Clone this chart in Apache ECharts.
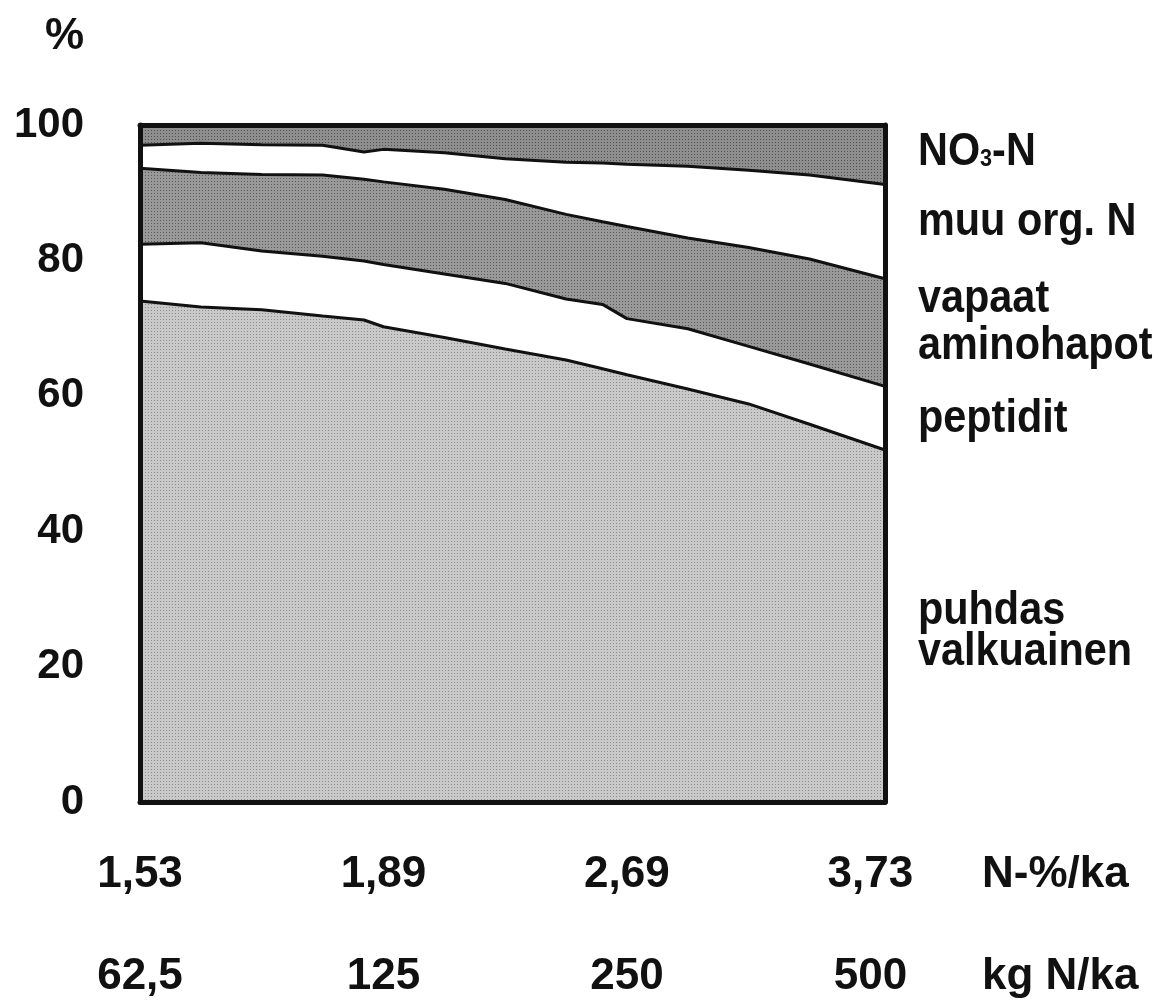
<!DOCTYPE html>
<html>
<head>
<meta charset="utf-8">
<script src="https://cdn.jsdelivr.net/npm/echarts@6/dist/echarts.min.js"></script>
<style>
  html, body { margin: 0; padding: 0; background: #fff; }
  #main { width: 1159px; height: 1002px; }
</style>
</head>
<body>
<div id="main"></div>
<script>
// x positions: 0..3 = the four sampled fertilisation levels
var xPos = [0, 0.25, 0.5, 0.75, 0.92, 1.0, 1.25, 1.5, 1.75, 1.9, 2.0, 2.25, 2.5, 2.75, 3.06];
var nLabels = ["1,53", "1,89", "2,69", "3,73"];
var kgLabels = ["62,5", "125", "250", "500"];
var yTicks = [0, 20, 40, 60, 80, 100];

// osuudet (%), alhaalta ylös
var protein = [74.0, 73.1, 72.7, 71.8, 71.2, 70.2, 68.6, 66.9, 65.3, 64.0, 63.1, 61.0, 58.8, 55.8, 52.0];
var peptides = [8.4, 9.5, 8.7, 8.8, 8.7, 9.2, 9.4, 9.7, 9.0, 9.5, 8.3, 8.9, 8.5, 8.9, 9.4];
var amino = [11.2, 10.4, 11.3, 12.0, 12.1, 12.2, 12.5, 12.4, 12.5, 12.2, 13.6, 13.4, 14.6, 15.5, 15.9];
var otherOrg = [3.4, 4.3, 4.4, 4.4, 4.0, 4.8, 5.4, 6.0, 7.7, 8.7, 9.2, 10.6, 11.4, 12.4, 13.9];
var nitrate = [3.0, 2.7, 2.9, 3.0, 4.0, 3.6, 4.1, 5.0, 5.5, 5.6, 5.8, 6.1, 6.7, 7.4, 8.8];

// right-hand labels: text and baseline y
var sideLabels = [
  ["{a|NO}{s|3}{a|-N}", 168],
  ["muu org. N", 238],
  ["vapaat", 315],
  ["aminohapot", 362],
  ["peptidit", 435],
  ["puhdas", 627],
  ["valkuainen", 668]
];

var FONT = '"Liberation Sans", Arial, Helvetica, sans-serif';

// halftone-like fill
function dots(base, dot) {
  var c = document.createElement("canvas");
  c.width = 3;
  c.height = 3;
  var ctx = c.getContext("2d");
  ctx.fillStyle = base;
  ctx.fillRect(0, 0, 3, 3);
  ctx.fillStyle = dot;
  ctx.fillRect(1, 1, 1, 1);
  return { image: c, repeat: "repeat" };
}
var lightFill = dots("#c9c9c9", "#8c8c8c");
var darkFill = dots("#999999", "#5a5a5a");
var nitFill = dots("#8e8e8e", "#505050");

// layers bottom to top, summed up by hand (stack did not behave on a value x axis)
var layers = [
  ["puhdas valkuainen", protein, lightFill],
  ["peptidit", peptides, "#ffffff"],
  ["vapaat aminohapot", amino, darkFill],
  ["muu org. N", otherOrg, "#ffffff"],
  ["NO3-N", nitrate, nitFill]
];
var running = xPos.map(function () { return 0; });
var series = layers.map(function (l) {
  running = running.map(function (s, i) { return +(s + l[1][i]).toFixed(2); });
  return {
    name: l[0],
    type: "line",
    data: running.map(function (v, i) { return [xPos[i], v]; }),
    symbol: "none",
    smooth: false,
    lineStyle: { color: "#111", width: 3 },
    areaStyle: { color: l[2], opacity: 1, origin: "start" },
    z: 2
  };
});
series.reverse(); // draw the tallest first so the lower ones sit on top

var axisBase = { type: "value", min: 0, max: 3.06, interval: 1 };
var frameLine = { show: true, onZero: false, lineStyle: { color: "#111", width: 5 } };

var myChart = echarts.init(document.getElementById("main"));
myChart.setOption({
  backgroundColor: "#fff",
  animation: false,
  grid: { left: 140, right: 274, top: 125, bottom: 200 },
  xAxis: [
    // frame bottom
    Object.assign({}, axisBase, {
      position: "bottom", z: 10, axisLine: frameLine,
      axisTick: { show: false }, axisLabel: { show: false }, splitLine: { show: false }
    }),
    // frame top
    Object.assign({}, axisBase, {
      position: "top", z: 10, axisLine: frameLine,
      axisTick: { show: false }, axisLabel: { show: false }, splitLine: { show: false }
    }),
    // N-%/ka row
    Object.assign({}, axisBase, {
      position: "bottom", offset: 73,
      axisLine: { show: false, onZero: false }, axisTick: { show: false }, splitLine: { show: false },
      name: "N-%/ka", nameLocation: "end", nameGap: 97,
      nameTextStyle: { fontSize: 44, fontWeight: "bold", color: "#111", fontFamily: FONT, verticalAlign: "middle" },
      axisLabel: {
        margin: 0, verticalAlign: "middle", fontSize: 44, fontWeight: "bold", color: "#111", fontFamily: FONT,
        formatter: function (v) { return Number.isInteger(v) ? nLabels[v] : ""; }
      }
    }),
    // kg N/ka row
    Object.assign({}, axisBase, {
      position: "bottom", offset: 175,
      axisLine: { show: false, onZero: false }, axisTick: { show: false }, splitLine: { show: false },
      name: "kg N/ka", nameLocation: "end", nameGap: 97,
      nameTextStyle: { fontSize: 44, fontWeight: "bold", color: "#111", fontFamily: FONT, verticalAlign: "middle" },
      axisLabel: {
        margin: 0, verticalAlign: "middle", fontSize: 44, fontWeight: "bold", color: "#111", fontFamily: FONT,
        formatter: function (v) { return Number.isInteger(v) ? kgLabels[v] : ""; }
      }
    })
  ],
  yAxis: [
    {
      type: "value", min: yTicks[0], max: yTicks[yTicks.length - 1], interval: 20, z: 10,
      axisLine: frameLine,
      axisTick: { show: false }, splitLine: { show: false },
      name: "%", nameLocation: "end", nameGap: 88,
      nameTextStyle: { fontSize: 44, fontWeight: "bold", color: "#111", fontFamily: FONT, align: "right", verticalAlign: "middle", padding: [0, 56, 0, 0] },
      axisLabel: { margin: 56, fontSize: 42, fontWeight: "bold", color: "#111", fontFamily: FONT }
    },
    {
      type: "value", min: 0, max: 100, position: "right", z: 10,
      axisLine: frameLine,
      axisTick: { show: false }, axisLabel: { show: false }, splitLine: { show: false }
    }
  ],
  graphic: sideLabels.map(function (s) {
    return {
      type: "text",
      x: 918,
      y: s[1] - 16,
      scaleX: 0.9,
      style: {
        text: s[0],
        fill: "#111",
        fontSize: 46,
        fontWeight: "bold",
        fontFamily: FONT,
        verticalAlign: "middle",
        rich: {
          a: { fontSize: 46, fontWeight: "bold", fontFamily: FONT, fill: "#111", color: "#111" },
          s: { fontSize: 24, fontWeight: "bold", fontFamily: FONT, fill: "#111", color: "#111", verticalAlign: "bottom", padding: [0, 0, 4, 0] }
        }
      }
    };
  }),
  series: series
});
window.addEventListener("resize", function () {
  myChart.resize();
});
</script>
</body>
</html>
